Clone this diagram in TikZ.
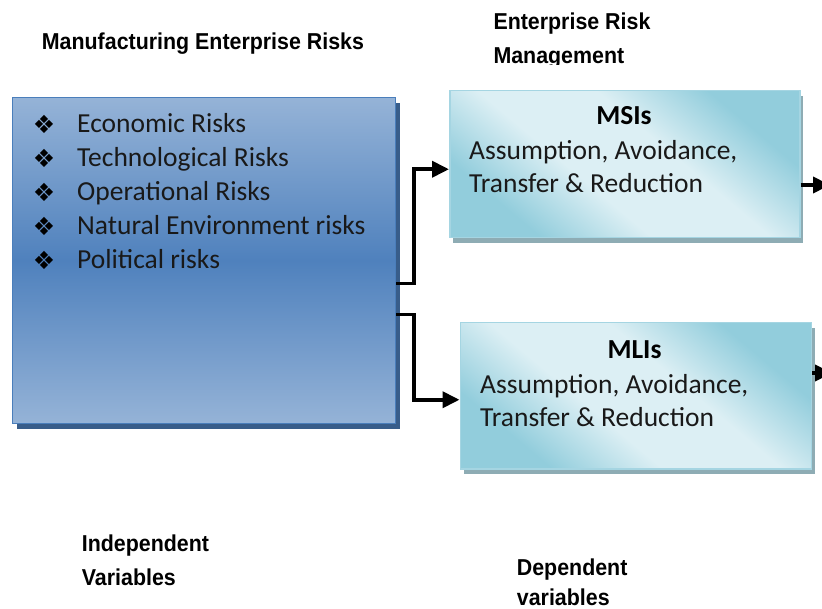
\documentclass[tikz,border=0pt]{standalone}
\usepackage{fontspec}
\setmainfont{Carlito}
\newfontfamily\hdfont{Liberation Sans}[FakeStretch=0.93]
\newfontfamily\symfont{DejaVu Sans}
\usetikzlibrary{arrows.meta,shadows}
\definecolor{lbLight}{HTML}{95B3D7}
\definecolor{lbDark}{HTML}{4F81BD}
\definecolor{lbBorder}{HTML}{4A7EBB}
\definecolor{lbShadow}{HTML}{385D8A}
\definecolor{rbLight}{HTML}{DCEFF4}
\definecolor{rbDark}{HTML}{92CDDC}
\definecolor{rbBorder}{HTML}{A5D5E2}
\definecolor{rbShadow}{HTML}{8EACB4}
\pgfdeclareverticalshading{rbshade}{100bp}{color(0bp)=(rbDark); color(27bp)=(rbDark); color(42bp)=(rbLight); color(58bp)=(rbLight); color(73bp)=(rbDark); color(100bp)=(rbDark)}
\tikzset{
  riskbox/.style={draw=lbBorder, line width=1.2pt, top color=lbLight, bottom color=lbLight, middle color=lbDark,
    general shadow={fill=lbShadow, shadow xshift=4pt, shadow yshift=-5pt},
    anchor=north west, inner sep=0pt, minimum width=383pt, minimum height=326pt},
  mbox/.style={draw=rbBorder, line width=1.5pt, shading=rbshade, shading angle=-40,
    general shadow={fill=rbShadow, shadow xshift=3.5pt, shadow yshift=-5pt},
    anchor=north west, inner sep=0pt, minimum width=350pt, minimum height=147pt},
  bodytxt/.style={font=\fontsize{27.5}{33}\selectfont, text=black!90, inner sep=0pt, anchor=base west},
  titletxt/.style={font=\bfseries\fontsize{27.5}{33}\selectfont, text=black, inner sep=0pt, anchor=base},
  bulsym/.style={font=\symfont\fontsize{25}{28}\selectfont, inner sep=0pt, anchor=center},
  hdtxt/.style={font=\hdfont\bfseries\fontsize{23}{28}\selectfont, inner sep=0pt, anchor=base west},
  conn/.style={line width=3.8pt, -{Triangle[length=17pt,width=16pt]}},
}
\begin{document}
\begin{tikzpicture}[x=1pt,y=-1pt]
\useasboundingbox (0,0) rectangle (822,609);
\clip (0,0) rectangle (822,609);

% headings
\node[hdtxt] (mer) at (41.7,50) {Manufacturing Enterprise Risks};
\begin{scope}
\clip (470,0) rectangle (720,65);
\node[hdtxt] (erm1) at (493.3,29.3) {Enterprise Risk};
\node[hdtxt] (erm2) at (493.3,63.3) {Management};
\end{scope}
\node[hdtxt] (iv1) at (81.7,551.7) {Independent};
\node[hdtxt] (iv2) at (81.7,585) {Variables};
\node[hdtxt] (dv1) at (516.7,575) {Dependent};
\node[hdtxt] (dv2) at (516.7,605) {variables};

% left box
\node[riskbox] (risk) at (12,97) {};
\node[bulsym] (b1) at (44,124) {❖};
\node[bulsym] (b2) at (44,158) {❖};
\node[bulsym] (b3) at (44,192) {❖};
\node[bulsym] (b4) at (44,226) {❖};
\node[bulsym] (b5) at (44,260) {❖};
\node[bodytxt] (r1) at (77,133) {Economic Risks};
\node[bodytxt] (r2) at (77,167) {Technological Risks};
\node[bodytxt] (r3) at (77,201) {Operational Risks};
\node[bodytxt] (r4) at (77,235) {Natural Environment risks};
\node[bodytxt] (r5) at (77,269) {Political risks};

% right boxes
\node[mbox] (msi) at (449,90) {};
\node[titletxt] (msit) at (624,125) {MSIs};
\node[bodytxt] (msa) at (469,160) {Assumption, Avoidance,};
\node[bodytxt] (msb) at (469,193) {Transfer \& Reduction};

\node[mbox, minimum width=351pt, minimum height=146pt] (mli) at (459.5,322) {};
\node[titletxt] (mlit) at (634.5,358.3) {MLIs};
\node[bodytxt] (mla) at (480,393.3) {Assumption, Avoidance,};
\node[bodytxt] (mlb) at (480,426.7) {Transfer \& Reduction};

% connectors
\draw[conn] ([yshift=-23pt]risk.east) -- ++(18pt,0) |- ([yshift=-5pt]msi.west);
\draw[conn] ([yshift=-54pt]risk.east) -- ++(18pt,0) |- ([yshift=-4pt]mli.west);
\coordinate (o1) at (830,185);
\coordinate (o2) at (832,373);
\draw[conn] (msi.east |- o1) -- (o1);
\draw[conn] (mli.east |- o2) -- (o2);
\end{tikzpicture}
\end{document}
